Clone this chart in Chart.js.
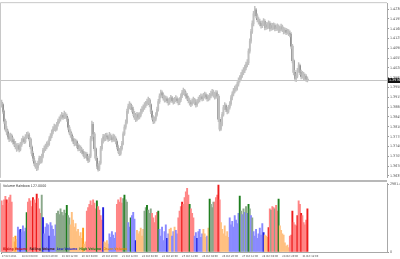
<!DOCTYPE html>
<html>
<head>
<meta charset="utf-8">
<script src="https://cdn.jsdelivr.net/npm/chart.js@4.4.1/dist/chart.umd.min.js"></script>
<style>
  body { margin: 0; background: #fff; }
  #wrap { position: relative; width: 400px; height: 259px; overflow: hidden; }
  .pane { position: absolute; left: 0; width: 400px; }
</style>
</head>
<body>
<div id="wrap">
  <div class="pane" style="top:0;height:181px"><canvas id="priceChart"></canvas></div>
  <div class="pane" style="top:180px;height:79px"><canvas id="volChart"></canvas></div>
</div>
<script>
// EURUSD H1, 17 Oct - 31 Oct 2011
const tickLabels = [
  '17 Oct 2011', '18 Oct 04:00', '18 Oct 20:00', '19 Oct 12:00', '20 Oct 04:00', '20 Oct 20:00',
  '21 Oct 12:00', '24 Oct 04:00', '24 Oct 20:00', '25 Oct 12:00', '26 Oct 04:00', '26 Oct 20:00',
  '27 Oct 12:00', '28 Oct 04:00', '28 Oct 20:00', '31 Oct 12:00'
];
const priceTicks = [1.3635, 1.3670, 1.3705, 1.3740, 1.3775, 1.3810, 1.3845, 1.3880, 1.3915,
  1.3950, 1.3985, 1.4020, 1.4055, 1.4090, 1.4125, 1.4160, 1.4195, 1.4230];
const volTicks = [0, 2981.45];
const volLabel = 'Volume Rainbow 127.0000';
// colour key printed at the foot of the volume window
const keyWords = ['Rising Volume', 'Falling Volume', 'Low Volume', 'High Volume', 'Churn Volume'];
const keyColors = ['#c81414', '#402020', '#2020d0', '#1e7e1e', '#e08a10'];

const firstOpen = 1.3896;
const closes = [
  1.3889,1.3865,1.3830,1.3802,1.3792,1.3774,1.3767,1.3778,1.3764,1.3757,
  1.3750,1.3739,1.3732,1.3743,1.3729,1.3746,1.3760,1.3767,1.3757,1.3774,
  1.3778,1.3781,1.3767,1.3739,1.3715,1.3698,1.3680,1.3670,1.3663,1.3680,
  1.3698,1.3687,1.3705,1.3726,1.3732,1.3739,1.3746,1.3750,1.3767,1.3778,
  1.3792,1.3802,1.3809,1.3802,1.3819,1.3830,1.3837,1.3844,1.3851,1.3844,
  1.3854,1.3847,1.3837,1.3809,1.3792,1.3781,1.3767,1.3760,1.3750,1.3757,
  1.3743,1.3732,1.3736,1.3726,1.3722,1.3715,1.3705,1.3712,1.3698,1.3691,
  1.3705,1.3767,1.3819,1.3785,1.3732,1.3698,1.3670,1.3659,1.3680,1.3732,
  1.3760,1.3774,1.3767,1.3778,1.3774,1.3767,1.3778,1.3771,1.3764,1.3774,
  1.3767,1.3757,1.3739,1.3726,1.3715,1.3732,1.3750,1.3785,1.3809,1.3826,
  1.3865,1.3882,1.3889,1.3879,1.3872,1.3858,1.3844,1.3837,1.3854,1.3844,
  1.3851,1.3865,1.3872,1.3879,1.3886,1.3892,1.3900,1.3906,1.3889,1.3865,
  1.3844,1.3830,1.3837,1.3854,1.3872,1.3900,1.3920,1.3931,1.3924,1.3913,
  1.3906,1.3910,1.3903,1.3896,1.3906,1.3913,1.3903,1.3900,1.3906,1.3910,
  1.3903,1.3896,1.3906,1.3920,1.3931,1.3938,1.3927,1.3920,1.3913,1.3903,
  1.3896,1.3892,1.3900,1.3906,1.3896,1.3889,1.3900,1.3906,1.3913,1.3917,
  1.3910,1.3920,1.3924,1.3917,1.3910,1.3913,1.3920,1.3927,1.3934,1.3924,
  1.3917,1.3931,1.3920,1.3837,1.3802,1.3819,1.3854,1.3879,1.3886,1.3872,
  1.3865,1.3879,1.3892,1.3913,1.3927,1.3938,1.3945,1.3948,1.3962,1.3976,
  1.3983,1.3993,1.4004,1.4011,1.4021,1.4032,1.4039,1.4080,1.4115,1.4150,
  1.4178,1.4213,1.4227,1.4206,1.4192,1.4185,1.4178,1.4171,1.4178,1.4185,
  1.4164,1.4174,1.4167,1.4178,1.4160,1.4171,1.4164,1.4171,1.4160,1.4164,
  1.4167,1.4154,1.4160,1.4167,1.4157,1.4150,1.4154,1.4147,1.4150,1.4143,
  1.4140,1.4098,1.4046,1.4004,1.3983,1.3990,1.4011,1.4028,1.4004,1.3990,
  1.3997,1.3983,1.3990,1.3980,1.3976
];
const highs = [
  1.3905,1.3895,1.3870,1.3838,1.3812,1.3799,1.3785,1.3788,1.3784,1.3772,
  1.3766,1.3758,1.3745,1.3751,1.3749,1.3755,1.3768,1.3777,1.3773,1.3782,
  1.3790,1.3792,1.3788,1.3772,1.3745,1.3722,1.3705,1.3689,1.3678,1.3688,
  1.3706,1.3705,1.3713,1.3733,1.3742,1.3748,1.3756,1.3760,1.3775,1.3786,
  1.3799,1.3811,1.3820,1.3817,1.3826,1.3838,1.3846,1.3853,1.3862,1.3858,
  1.3866,1.3861,1.3855,1.3842,1.3815,1.3800,1.3788,1.3776,1.3768,1.3766,
  1.3763,1.3750,1.3746,1.3742,1.3734,1.3730,1.3722,1.3720,1.3718,1.3705,
  1.3713,1.3776,1.3830,1.3826,1.3790,1.3738,1.3704,1.3677,1.3688,1.3740,
  1.3768,1.3783,1.3782,1.3787,1.3788,1.3781,1.3790,1.3785,1.3779,1.3784,
  1.3781,1.3774,1.3763,1.3745,1.3733,1.3740,1.3758,1.3792,1.3817,1.3835,
  1.3873,1.3891,1.3900,1.3895,1.3887,1.3880,1.3865,1.3852,1.3862,1.3860,
  1.3861,1.3873,1.3882,1.3888,1.3896,1.3901,1.3909,1.3916,1.3912,1.3894,
  1.3870,1.3850,1.3846,1.3861,1.3880,1.3908,1.3928,1.3941,1.3938,1.3931,
  1.3921,1.3920,1.3917,1.3911,1.3914,1.3922,1.3919,1.3912,1.3915,1.3921,
  1.3917,1.3911,1.3914,1.3928,1.3940,1.3948,1.3944,1.3935,1.3929,1.3920,
  1.3911,1.3904,1.3910,1.3916,1.3912,1.3904,1.3908,1.3916,1.3922,1.3928,
  1.3925,1.3929,1.3934,1.3931,1.3925,1.3923,1.3929,1.3937,1.3944,1.3941,
  1.3932,1.3939,1.3938,1.3926,1.3844,1.3827,1.3862,1.3887,1.3896,1.3892,
  1.3880,1.3887,1.3900,1.3921,1.3935,1.3947,1.3955,1.3960,1.3970,1.3985,
  1.3993,1.4003,1.4013,1.4021,1.4030,1.4041,1.4050,1.4088,1.4124,1.4158,
  1.4188,1.4222,1.4240,1.4233,1.4213,1.4200,1.4194,1.4187,1.4188,1.4196,
  1.4192,1.4183,1.4182,1.4188,1.4185,1.4180,1.4179,1.4181,1.4178,1.4174,
  1.4177,1.4174,1.4169,1.4176,1.4173,1.4165,1.4163,1.4161,1.4159,1.4157,
  1.4152,1.4146,1.4104,1.4052,1.4011,1.3999,1.4019,1.4039,1.4034,1.4012,
  1.4008,1.4004,1.3999,1.3996,1.3988
];
const lows = [
  1.3880,1.3858,1.3822,1.3795,1.3781,1.3766,1.3757,1.3760,1.3755,1.3748,
  1.3741,1.3731,1.3722,1.3726,1.3720,1.3724,1.3740,1.3754,1.3750,1.3752,
  1.3768,1.3771,1.3760,1.3731,1.3706,1.3688,1.3671,1.3662,1.3654,1.3656,
  1.3674,1.3679,1.3681,1.3699,1.3719,1.3725,1.3731,1.3738,1.3744,1.3761,
  1.3771,1.3785,1.3796,1.3794,1.3797,1.3812,1.3823,1.3830,1.3838,1.3836,
  1.3839,1.3840,1.3829,1.3801,1.3784,1.3772,1.3759,1.3751,1.3742,1.3744,
  1.3735,1.3724,1.3725,1.3718,1.3713,1.3706,1.3697,1.3699,1.3690,1.3682,
  1.3685,1.3700,1.3760,1.3776,1.3724,1.3690,1.3661,1.3652,1.3654,1.3676,
  1.3726,1.3752,1.3759,1.3761,1.3766,1.3758,1.3761,1.3763,1.3756,1.3758,
  1.3760,1.3749,1.3731,1.3717,1.3707,1.3709,1.3727,1.3745,1.3779,1.3802,
  1.3820,1.3858,1.3874,1.3871,1.3863,1.3850,1.3836,1.3828,1.3831,1.3836,
  1.3838,1.3845,1.3858,1.3865,1.3872,1.3879,1.3886,1.3893,1.3881,1.3857,
  1.3836,1.3821,1.3823,1.3831,1.3848,1.3866,1.3893,1.3913,1.3916,1.3905,
  1.3898,1.3899,1.3895,1.3887,1.3890,1.3900,1.3896,1.3891,1.3893,1.3900,
  1.3895,1.3888,1.3889,1.3900,1.3914,1.3925,1.3920,1.3911,1.3905,1.3895,
  1.3887,1.3882,1.3886,1.3893,1.3888,1.3880,1.3883,1.3894,1.3899,1.3906,
  1.3902,1.3904,1.3913,1.3909,1.3901,1.3902,1.3906,1.3913,1.3920,1.3916,
  1.3909,1.3911,1.3912,1.3828,1.3795,1.3797,1.3813,1.3848,1.3871,1.3864,
  1.3856,1.3859,1.3873,1.3886,1.3906,1.3920,1.3931,1.3937,1.3941,1.3955,
  1.3969,1.3976,1.3986,1.3996,1.4003,1.4013,1.4024,1.4032,1.4073,1.4108,
  1.4143,1.4170,1.4205,1.4198,1.4184,1.4176,1.4170,1.4162,1.4164,1.4171,
  1.4156,1.4157,1.4159,1.4161,1.4151,1.4154,1.4156,1.4157,1.4152,1.4153,
  1.4157,1.4146,1.4147,1.4153,1.4149,1.4141,1.4143,1.4139,1.4140,1.4135,
  1.4131,1.4090,1.4038,1.3995,1.3974,1.3971,1.3984,1.4004,1.3996,1.3981,
  1.3984,1.3975,1.3977,1.3972,1.3970
];
const volumes = [
  2250,2050,2300,2450,2300,2150,2400,2500,2200,650,
  450,700,560,1100,950,1000,850,1150,900,1050,
  1730,2200,2350,2250,2000,2400,2300,2150,2550,2350,
  1900,1700,2500,1510,800,1100,1250,1200,700,1300,
  1150,1000,700,1200,1700,1800,1650,1900,1750,1600,
  1850,1700,2050,1600,1500,1200,1750,1400,1100,1250,
  900,1000,700,850,600,1050,350,450,1800,1950,
  2100,2250,2050,2300,2150,1900,2250,2000,1850,1600,
  1400,1950,450,400,500,350,800,650,900,750,
  600,850,2100,2300,2200,2400,2150,2350,2500,2300,
  2200,1300,1100,1500,1600,1750,1450,500,950,800,
  900,1050,700,1000,1800,1950,2050,1850,1700,1900,
  1700,1500,1300,1600,1750,1800,1000,700,1100,500,
  900,1200,600,800,1000,1050,700,900,1100,950,
  800,1500,1800,2000,2200,2100,2400,2650,2800,2500,
  2100,1900,1700,1500,700,850,600,900,1000,650,
  800,1000,800,650,700,1050,2330,2100,1950,2200,
  2200,2400,2500,2940,2300,1300,1000,800,1150,700,
  900,650,1500,1200,1350,1100,1600,1400,1250,1700,
  2460,1800,1650,1900,1750,2000,1700,2100,1900,1600,
  1500,900,700,1000,600,800,1050,750,1250,860,
  750,700,650,1080,1900,1850,2000,1950,1900,2050,
  1800,2330,1150,950,800,750,400,250,300,200,
  700,750,1800,1300,1200,1150,1600,2250,2100,1700,
  1600,1300,1200,1400,1900
];
// rainbow colour class of each volume bar
const volClass = [
  'rrrrRrrrr', 'ooOo', 'bbBbbbb', 'G', 'rrrrRrrRrrr', 'g', 'BbbbbBbbbbb', 'ggggggggGgg',
  'ooooooooooOoo', 'rrrrrrrrGrrrr', 'B', 'oooo', 'bbbbbb', 'rrrrrgGgg', 'bbG', 'bbb', 'Boo',
  'oooo', 'ggGggg', 'rrrrrG', 'bbbbbb', 'Bboobbobb', 'rrrRrrrrrGrrr', 'bbBbbbb', 'ooobo', 'G',
  'ggg', 'rrrRr', 'ooooooo', 'bbbbbbbb', 'G', 'gbgbgbGgbg', 'bbbbbbbb', 'B', 'ooo', 'R',
  'rgrrgrr', 'G', 'oooooooo', 'rr', 'R', 'rrr', 'R', 'rrR', 'rrrr', 'R'
].join('');

const palette = {
  r: '#ff8585', R: '#ee1c1c', b: '#8a8aff', B: '#2020e0',
  g: '#8aa88a', G: '#1e7e1e', o: '#ffc080', O: '#ff9a1f'
};

const slots = 308; // chart width in bars, incl. empty space on the right
const xLabels = [];
for (let i = 0; i < slots; i++) {
  xLabels.push(i % 16 === 0 && tickLabels[i / 16] ? tickLabels[i / 16] : '');
}
const lastPrice = closes[closes.length - 1];
const fam = "'Liberation Sans Narrow', 'DejaVu Sans Condensed', 'Liberation Sans', sans-serif";
const tinyFont = { family: fam, size: 3.6 };
const dateFont = { family: fam, size: 2.7 };

const wickData = closes.map((c, i) => [lows[i], highs[i]]);
const bodyData = closes.map((c, i) => [i ? closes[i - 1] : firstOpen, c]);
const bodyColors = closes.map((c, i) => c < (i ? closes[i - 1] : firstOpen) ? '#000' : '#b0b0b0');

const priceDecor = {
  id: 'priceDecor',
  afterDraw(chart) {
    const { ctx, chartArea: a, scales: { y } } = chart;
    ctx.save();
    ctx.strokeStyle = '#c8c8c8';
    ctx.lineWidth = 1;
    ctx.beginPath();
    ctx.moveTo(a.left - 0.5, a.bottom);
    ctx.lineTo(a.left - 0.5, a.top - 0.5);
    ctx.lineTo(a.right, a.top - 0.5);
    ctx.stroke();
    const py = Math.round(y.getPixelForValue(lastPrice)) + 0.5;
    ctx.strokeStyle = '#c4c4c4';
    ctx.beginPath();
    ctx.moveTo(a.left, py);
    ctx.lineTo(a.right, py);
    ctx.stroke();
    ctx.fillStyle = '#111';
    ctx.fillRect(a.right + 1, py - 2.5, 12, 5);
    ctx.fillStyle = '#fff';
    ctx.font = `${tinyFont.size}px ${tinyFont.family}`;
    ctx.textBaseline = 'middle';
    ctx.fillText(lastPrice.toFixed(4), a.right + 2, py);
    ctx.restore();
  }
};

new Chart(document.getElementById('priceChart').getContext('2d'), {
  type: 'bar',
  data: {
    labels: xLabels,
    datasets: [{
      data: wickData,
      backgroundColor: '#c0c0c0',
      barThickness: 0.8,
      grouped: false
    }, {
      data: bodyData,
      backgroundColor: bodyColors,
      barThickness: 1,
      grouped: false
    }]
  },
  options: {
    responsive: true,
    maintainAspectRatio: false,
    animation: false,
    layout: { padding: { top: 1, left: 1, bottom: 1, right: 0 } },
    plugins: { legend: { display: false }, tooltip: { enabled: false } },
    scales: {
      x: { display: false },
      y: {
        position: 'right',
        min: 1.3628,
        max: 1.4251,
        grid: { display: true, drawOnChartArea: false, tickLength: 2, color: '#999' },
        border: { display: true, color: '#a8a8a8' },
        ticks: { font: tinyFont, color: '#555', padding: 1, callback: v => v.toFixed(4) },
        afterBuildTicks: s => { s.ticks = priceTicks.map(v => ({ value: v })); },
        afterFit: s => { s.width = 13; }
      }
    }
  },
  plugins: [priceDecor]
});

const volDecor = {
  id: 'volDecor',
  afterDraw(chart) {
    const { ctx, chartArea: a } = chart;
    ctx.save();
    ctx.fillStyle = '#b8b8b8';
    ctx.fillRect(0, 0, a.right, 2);
    ctx.strokeStyle = '#c8c8c8';
    ctx.beginPath();
    ctx.moveTo(a.left - 0.5, a.top);
    ctx.lineTo(a.left - 0.5, a.bottom);
    ctx.stroke();
    ctx.font = `${tinyFont.size}px ${tinyFont.family}`;
    ctx.textBaseline = 'top';
    ctx.fillStyle = '#333';
    ctx.fillText(volLabel, a.left + 2, a.top + 1);
    // colour key along the bottom of the window
    let kx = a.left + 2;
    ctx.font = `bold 3.4px ${fam}`;
    ctx.textBaseline = 'alphabetic';
    keyWords.forEach((w, i) => {
      ctx.fillStyle = keyColors[i];
      ctx.fillText(w, kx, a.bottom - 2.5);
      kx += ctx.measureText(w).width + 2;
    });
    ctx.restore();
  }
};

new Chart(document.getElementById('volChart').getContext('2d'), {
  type: 'bar',
  data: {
    labels: xLabels,
    datasets: [{
      data: volumes,
      backgroundColor: volumes.map((v, i) => palette[volClass[i]] || palette.r),
      barPercentage: 1,
      categoryPercentage: 1
    }]
  },
  options: {
    responsive: true,
    maintainAspectRatio: false,
    animation: false,
    layout: { padding: { top: 2, left: 1, bottom: 0, right: 0 } },
    plugins: { legend: { display: false }, tooltip: { enabled: false } },
    scales: {
      x: {
        grid: {
          display: true, drawOnChartArea: false, offset: false, tickLength: 2,
          color: c => (c.index % 16 === 0 && c.index < closes.length) ? '#888' : 'rgba(0,0,0,0)'
        },
        border: { display: true, color: '#a8a8a8' },
        ticks: {
          autoSkip: false, maxRotation: 0, align: 'start', padding: 0.5,
          font: dateFont, color: '#444',
          callback: (v, i) => xLabels[i] || null
        },
        afterFit: s => { s.height = 7; }
      },
      y: {
        position: 'right',
        min: 0,
        max: 3030,
        grid: { display: true, drawOnChartArea: false, tickLength: 2, color: '#999' },
        border: { display: true, color: '#a8a8a8' },
        ticks: { font: tinyFont, color: '#555', padding: 1, callback: v => v === 0 ? '0' : v.toFixed(2) },
        afterBuildTicks: s => { s.ticks = volTicks.map(v => ({ value: v })); },
        afterFit: s => { s.width = 13; }
      }
    }
  },
  plugins: [volDecor]
});
</script>
</body>
</html>
